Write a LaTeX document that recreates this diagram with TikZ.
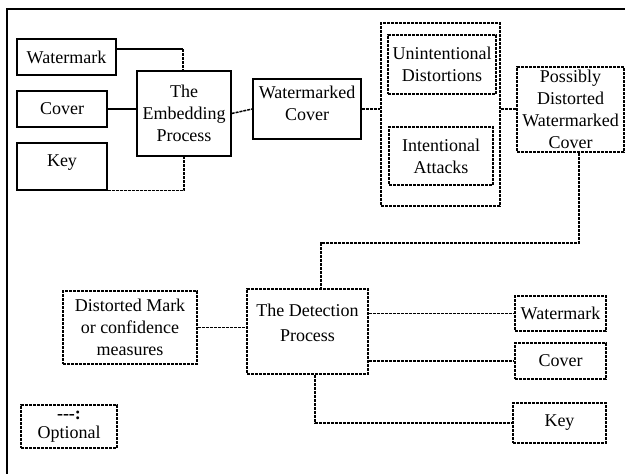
\documentclass[tikz,border=0pt]{standalone}
\usepackage{fontspec}
\setmainfont{Liberation Serif}
\begin{document}
\begin{tikzpicture}[x=1pt,y=-1pt,
  every node/.style={font=\fontsize{18}{22}\selectfont, align=center, inner sep=0pt},
  sbox/.style={draw, line width=1.3pt},
  dbox/.style={draw, line width=1.5pt, dash pattern=on 3pt off 1pt},
  sline/.style={line width=1.3pt},
  dline/.style={line width=1.5pt, dash pattern=on 3pt off 1pt}]
\useasboundingbox (0,0) rectangle (625,474);
\draw[line width=1.5pt] (7,474) -- (7,9) -- (626,9);
% embedding part
\node[sbox, minimum width=99pt, minimum height=36pt] (wm1) at (66.5,57) {Watermark};
\node[sbox, minimum width=90pt, minimum height=36pt] (cov1) at (62,109) {Cover};
\node[sbox, minimum width=90pt, minimum height=47pt, text depth=11pt] (key1) at (62,166.5) {Key};
\node[sbox, minimum width=94pt, minimum height=85pt] (emb) at (184,113.5) {The\\Embedding\\Process};
\node[sbox, minimum width=108pt, minimum height=60pt, text depth=12pt] (wmc) at (307,109) {Watermarked\\Cover};
\node[dbox, minimum width=119pt, minimum height=183pt] (att) at (440.5,114.5) {};
\node[dbox, minimum width=108pt, minimum height=59pt] (unint) at (442,64.5) {Unintentional\\Distortions};
\node[dbox, minimum width=104pt, minimum height=58pt] (inten) at (441,156) {Intentional\\Attacks};
\node[dbox, minimum width=107pt, minimum height=85pt] (poss) at (570.5,109.5) {Possibly\\Distorted\\Watermarked\\Cover};
% detection part
\node[dbox, minimum width=121pt, minimum height=85pt, text depth=17pt, font=\fontsize{18}{25}\selectfont] (det) at (307.5,331.5) {The Detection\\Process};
\node[dbox, minimum width=134pt, minimum height=73pt] (dm) at (130,327.5) {Distorted Mark\\or confidence\\measures};
\node[dbox, minimum width=91pt, minimum height=35pt] (wm2) at (560.5,313.5) {Watermark};
\node[dbox, minimum width=91pt, minimum height=36pt] (cov2) at (560.5,361) {Cover};
\node[dbox, minimum width=93pt, minimum height=40pt] (key2) at (559.5,423) {Key};
\node[dbox, minimum width=96pt, minimum height=43pt, font=\fontsize{18}{19}\selectfont] (opt) at (69,426.5) {\textbf{-{}-{}-:}\\Optional};
% coordinates for bends
\coordinate (b1) at (183,49);
\coordinate (b2) at (500,109);
\coordinate (c1) at (579,243);
\coordinate (c2) at (321,243);
\coordinate (c3) at (315,425);
% connectors
\draw[sline] (wm1.east |- b1) -- (b1);
\draw[dline] (b1) -- (b1 |- emb.north);
\draw[sline] (cov1.east) -- (emb.west |- cov1.east);
\draw[dline] (key1.south east) -| (emb.south);
\draw[dline] (emb.east) -- (wmc.west);
\draw[dline] (wmc.east) -- (att.west |- wmc.east);
\draw[dline] (att.east |- b2) -- (poss.west |- b2);
\draw[dline] (c1 |- poss.south) -- (c1) -- (c2) -- (c2 |- det.north);
\draw[dline] (dm.east) -- (det.west |- dm.east);
\draw[dline] (det.east |- wm2.west) -- (wm2.west);
\draw[dline] (det.east |- cov2.west) -- (cov2.west);
\draw[dline] (c3 |- det.south) |- (key2.west);
\end{tikzpicture}
\end{document}
